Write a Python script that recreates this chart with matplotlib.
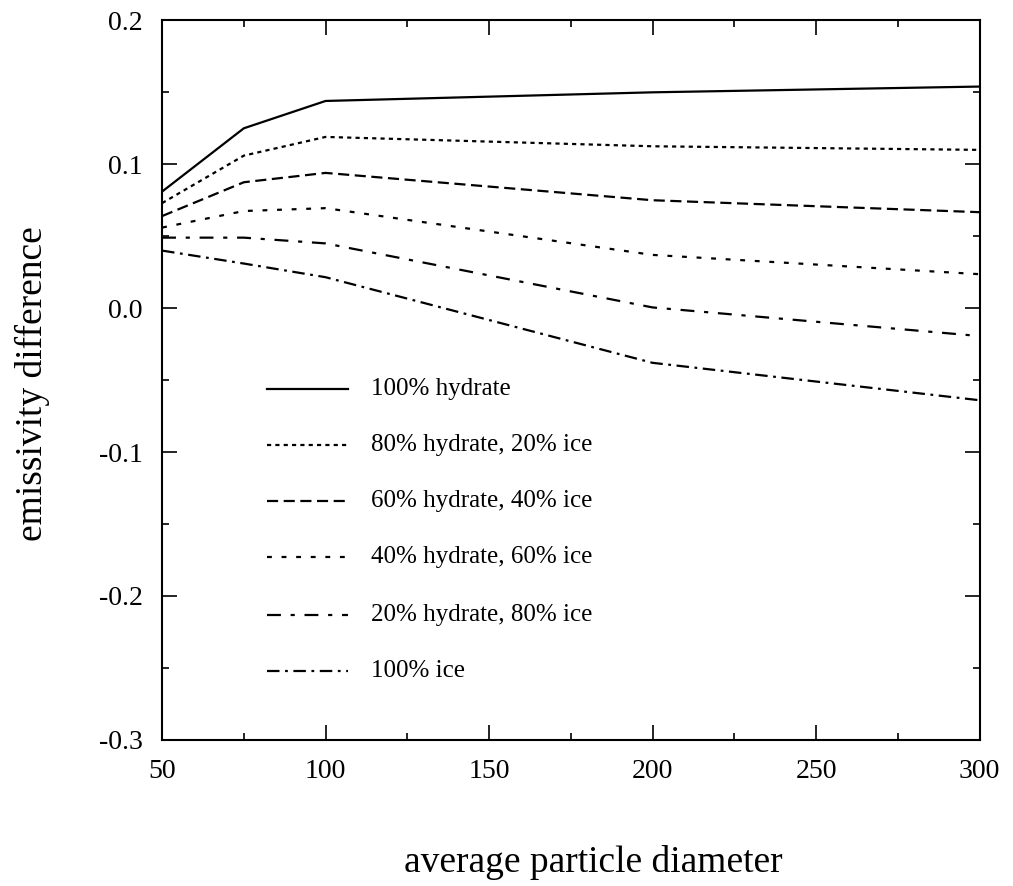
import matplotlib
matplotlib.use("Agg")
import matplotlib.pyplot as plt
from matplotlib.ticker import MultipleLocator, FormatStrFormatter

plt.rcParams['font.family'] = ['Liberation Serif', 'DejaVu Serif']
plt.rcParams['axes.unicode_minus'] = False
plt.rcParams['lines.scale_dashes'] = False

# data
diameter = [50, 75, 100, 200, 300]
hydrate100 = [0.081, 0.125, 0.144, 0.150, 0.154]
hydrate80 = [0.073, 0.106, 0.119, 0.1125, 0.110]
hydrate60 = [0.064, 0.0875, 0.094, 0.075, 0.0667]
hydrate40 = [0.056, 0.0675, 0.0695, 0.037, 0.0236]
hydrate20 = [0.049, 0.049, 0.045, 0.0005, -0.0194]
ice100 = [0.040, 0.031, 0.0215, -0.038, -0.064]

labels = ['100% hydrate', '80% hydrate, 20% ice', '60% hydrate, 40% ice',
          '40% hydrate, 60% ice', '20% hydrate, 80% ice', '100% ice']
series = [hydrate100, hydrate80, hydrate60, hydrate40, hydrate20, ice100]
styles = ['-', (0, (3, 3)), (0, (8, 4)), (0, (3.5, 7)),
          (0, (10, 7, 3, 7)), (0, (9, 4, 2, 4))]

fig = plt.figure(figsize=(10.13, 8.86), dpi=100)
ax = fig.add_axes([0.16, 0.165, 0.807, 0.812])

for ys, ls in zip(series, styles):
    ax.plot(diameter, ys, color='black', lw=1.6, linestyle=ls)

# hand-drawn style legend inside the axes
leg_y = [-0.056, -0.095, -0.134, -0.173, -0.213, -0.252]
for yy, ls, lab in zip(leg_y, styles, labels):
    ax.plot([82, 107], [yy, yy], color='black', lw=1.6, linestyle=ls)
    ax.text(114, yy, lab, fontsize=18, va='center', ha='left')

ax.set_xlim(50, 300)
ax.set_ylim(-0.3, 0.2)
ax.xaxis.set_major_locator(MultipleLocator(50))
ax.xaxis.set_minor_locator(MultipleLocator(25))
ax.yaxis.set_major_locator(MultipleLocator(0.1))
ax.yaxis.set_minor_locator(MultipleLocator(0.05))
ax.yaxis.set_major_formatter(FormatStrFormatter('%.1f'))
ax.tick_params(which='both', direction='in', top=True, right=True, width=1.2)
ax.tick_params(which='major', length=11, labelsize=20, pad=14)
ax.tick_params(which='minor', length=5)
for sp in ax.spines.values():
    sp.set_linewidth(1.5)

fig.text(0.586, 0.027, 'average particle diameter', fontsize=27,
         ha='center', va='center')
fig.text(0.032, 0.567, 'emissivity difference', fontsize=27,
         ha='center', va='center', rotation=90)

fig.savefig('out.png', dpi=100)
